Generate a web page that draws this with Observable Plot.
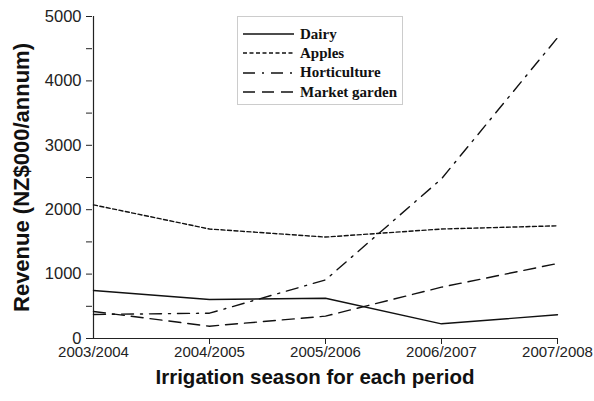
<!DOCTYPE html>
<html><head><meta charset="utf-8">
<script src="https://cdn.jsdelivr.net/npm/d3@7"></script>
<script src="https://cdn.jsdelivr.net/npm/@observablehq/plot@0.6"></script>
<style>
body{margin:0;background:#fff;}
#wrap{position:relative;width:594px;height:401px;}
#legend{position:absolute;left:237px;top:16px;width:166px;height:89px;border:1px solid #ccc;background:#fff;box-sizing:border-box;font-family:"Liberation Serif",serif;font-weight:bold;font-size:15px;color:#111;}
#legend div{position:absolute;left:5px;height:17px;line-height:17px;display:flex;align-items:center;}
#legend svg{margin-right:6px;}
</style></head><body>
<div id="wrap"><div id="chart"></div><div id="legend"></div></div>
<script>
const periods = ["2003/2004","2004/2005","2005/2006","2006/2007","2007/2008"];
const seriesNames = ["Dairy","Apples","Horticulture","Market garden"];
const dairy = [745, 605, 625, 228, 368];
const apples = [2075, 1700, 1575, 1700, 1750];
const horticulture = [373, 393, 910, 2480, 4670];
const marketGarden = [420, 191, 347, 797, 1165];
const yTicks = [0,1000,2000,3000,4000,5000];
const yMinorTicks = [500,1500,2500,3500,4500];
const dashes = {"Dairy":null,"Apples":"4,2.5","Horticulture":"12,7,2,7","Market garden":"12,7"};

const allVals = [dairy, apples, horticulture, marketGarden];
const rows = [];
seriesNames.forEach((s,i)=>periods.forEach((p,j)=>rows.push({series:s, period:p, value:allVals[i][j]})));

const lineMarks = seriesNames.map(s => Plot.line(rows.filter(d=>d.series===s), {
  x:"period", y:"value", stroke:"#111", strokeWidth:1.4,
  strokeDasharray: dashes[s] || undefined
}));

const chart = Plot.plot({
  width:594, height:401,
  marginLeft:92, marginRight:37, marginTop:16, marginBottom:63,
  style:{fontFamily:"Liberation Sans, Arial, sans-serif", color:"#222", background:"#fff"},
  x:{type:"point", domain:periods, padding:0},
  y:{domain:[0,5000]},
  marks:[
    Plot.axisY({ticks:yTicks.concat(yMinorTicks), tickSize:6, text:null, label:null}),
    Plot.axisX({ticks:periods.slice(1), tickSize:6, text:null, label:null}),
    Plot.text(yTicks, {y:d=>d, frameAnchor:"left", dx:-11, textAnchor:"end", fontSize:16.5, fill:"#222", text:d=>String(d)}),
    Plot.text(periods, {x:d=>d, frameAnchor:"bottom", dy:18, fontSize:15, fill:"#222", text:d=>d}),
    Plot.ruleX([periods[0]], {stroke:"#222", strokeWidth:1.2}),
    Plot.ruleY([0], {stroke:"#222", strokeWidth:1.2}),
    ...lineMarks,
    Plot.text(["Revenue (NZ$000/annum)"], {frameAnchor:"left", dx:-71, rotate:-90, textAnchor:"middle", fontSize:22, fontWeight:"bold", fill:"#111"}),
    Plot.text(["Irrigation season for each period"], {frameAnchor:"bottom", dy:45, dx:-10, fontSize:20.5, fontWeight:"bold", fill:"#111"})
  ]
});
document.getElementById("chart").appendChild(chart);

const leg = document.getElementById("legend");
seriesNames.forEach((s,i)=>{
  const div = document.createElement("div");
  div.style.top = (8.5 + i*19.4) + "px";
  const svg = d3.create("svg").attr("width",51).attr("height",12);
  svg.append("line").attr("x1",0).attr("x2",51).attr("y1",6).attr("y2",6)
    .attr("stroke","#111").attr("stroke-width",1.5)
    .attr("stroke-dasharray", dashes[s] || null);
  div.appendChild(svg.node());
  const sp = document.createElement("span"); sp.textContent = s;
  div.appendChild(sp);
  leg.appendChild(div);
});
</script></body></html>
